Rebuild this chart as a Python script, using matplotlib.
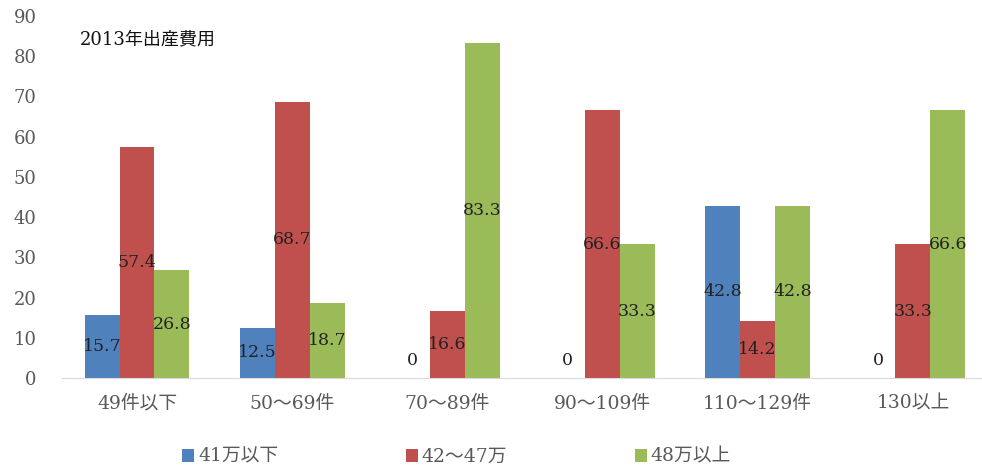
import numpy as np
import matplotlib.pyplot as plt

# 2013年 出産費用（分娩件数別）
categories = ["49件以下", "50〜69件", "70〜89件", "90〜109件", "110〜129件", "130以上"]
series_names = ["41万以下", "42〜47万", "48万以上"]
low = [15.7, 12.5, 0, 0, 42.8, 0]
mid = [57.4, 68.7, 16.6, 66.6, 14.2, 33.3]
high = [26.8, 18.7, 83.3, 33.3, 42.8, 66.6]
colors = ["#4F81BD", "#C0504D", "#9BBB59"]

plt.rcParams['font.family'] = ['DejaVu Serif', 'Noto Sans CJK JP']

fig = plt.figure(figsize=(9.82, 4.71), dpi=100)
ax = fig.add_axes([0.063, 0.1975, 0.937, 0.7686])

x = np.arange(len(categories))
w = 0.225
for i, (vals, name, c) in enumerate(zip([low, mid, high], series_names, colors)):
    pos = x + (i - 1) * w
    ax.bar(pos, vals, width=w, color=c, label=name)
    for px, v in zip(pos, vals):
        ypos = v / 2 if v > 0 else 4.3
        ax.text(px, ypos, f"{v:g}", ha='center', va='center',
                fontsize=12.5, color='#222222')

ax.set_xlim(-0.484, 5.445)
ax.set_ylim(0, 90)
ax.set_yticks(range(0, 91, 10))
ax.set_xticks(x)
ax.set_xticklabels(categories, fontsize=13.5)
ax.tick_params(axis='both', length=0, colors='#595959')
ax.tick_params(axis='y', labelsize=13, pad=18)
ax.tick_params(axis='x', pad=12)
for s in ['top', 'right', 'left']:
    ax.spines[s].set_visible(False)
ax.spines['bottom'].set_color('#d9d9d9')

ax.text(0.02, 0.935, "2013年出産費用", transform=ax.transAxes,
        fontsize=13, color='#111111', va='center')

fig.legend(loc='center', bbox_to_anchor=(0.465, 0.03), ncol=3, frameon=False,
           fontsize=13.5, labelcolor='#595959', handlelength=0.65, handleheight=0.65,
           handletextpad=0.2, columnspacing=6.8)

fig.savefig("out.png", dpi=100)
